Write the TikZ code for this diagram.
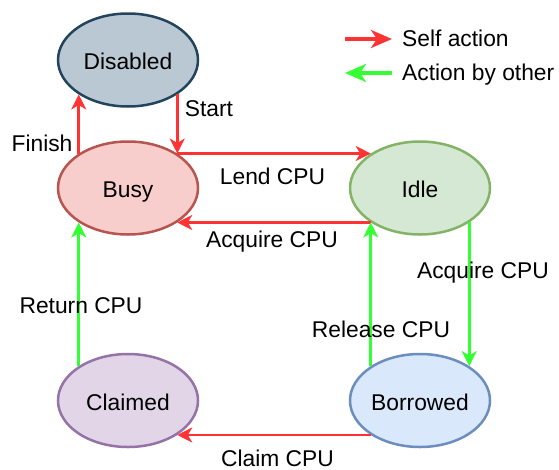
\documentclass[tikz,border=0pt]{standalone}
\usepackage{fontspec}
\setmainfont{Liberation Sans}
\usetikzlibrary{arrows.meta,shapes.geometric}

\definecolor{selfred}{HTML}{FF3333}
\definecolor{othergreen}{HTML}{33FF33}
\definecolor{disfill}{HTML}{BAC8D3}\definecolor{disline}{HTML}{23445D}
\definecolor{busyfill}{HTML}{F8CECC}\definecolor{busyline}{HTML}{B85450}
\definecolor{idlefill}{HTML}{D5E8D4}\definecolor{idleline}{HTML}{82B366}
\definecolor{clmfill}{HTML}{E1D5E7}\definecolor{clmline}{HTML}{9673A6}
\definecolor{borfill}{HTML}{DAE8FC}\definecolor{borline}{HTML}{6C8EBF}

\tikzset{
  txt/.style={font=\fontsize{22.8}{26}\selectfont},
  state/.style={ellipse, txt, line width=2.5pt, minimum width=140pt,
    minimum height=93pt, inner sep=0pt, text height=19.8pt, text depth=0pt},
  lbl/.style={txt, inner sep=0pt, text height=16.4pt, text depth=0pt},
  selfarr/.style={draw=selfred, line width=2.5pt,
    -{Stealth[length=15pt,width=15pt,inset=4.5pt]}},
  otherarr/.style={draw=othergreen, line width=2.5pt,
    -{Stealth[length=15pt,width=15pt,inset=4.5pt]}},
  keyarr/.style={line width=4pt,
    -{Stealth[length=21pt,width=18pt,inset=6pt]}}
}

\begin{document}
\begin{tikzpicture}[x=1pt,y=-1pt]
\useasboundingbox (0,0) rectangle (559,469);

% states
\node[state, fill=disfill, draw=disline]   (disabled) at (128,60)    {Disabled};
\node[state, fill=busyfill, draw=busyline] (busy)     at (128,188)   {Busy};
\node[state, fill=idlefill, draw=idleline] (idle)     at (420,188)   {Idle};
\node[state, fill=clmfill, draw=clmline]   (claimed)  at (128,400.5) {Claimed};
\node[state, fill=borfill, draw=borline]   (borrowed) at (420,400.5) {Borrowed};

% transitions
\draw[selfarr]  (busy.145)     -- (disabled.215);
\draw[selfarr]  (disabled.-35) -- (busy.35);
\draw[selfarr]  (busy.35)      -- (idle.145);
\draw[selfarr]  (idle.215)     -- (busy.-35);
\draw[otherarr] (idle.-35)     -- (borrowed.35);
\draw[otherarr] (borrowed.145) -- (idle.215);
\draw[otherarr] (claimed.145)  -- (busy.215);
\draw[selfarr]  (borrowed.215) -- (claimed.-35);

% transition labels
\node[lbl] (lfinish)  at (42,143.3)  {Finish};
\node[lbl] (lstart)   at (209,108)   {Start};
\node[lbl] (llend)    at (272.5,176.7) {Lend CPU};
\node[lbl] (lacq)     at (272,239)   {Acquire CPU};
\node[lbl] (lacqr)    at (483,270.7) {Acquire CPU};
\node[lbl] (lrel)     at (381,329)   {Release CPU};
\node[lbl] (lret)     at (81,305.7)  {Return CPU};
\node[lbl] (lclaim)   at (277.5,458) {Claim CPU};

% legend
\coordinate (k1a) at (345,39);  \coordinate (k1b) at (392,39);
\coordinate (k2a) at (392,73);  \coordinate (k2b) at (345,73);
\draw[keyarr, draw=selfred]    (k1a) -- (k1b);
\draw[keyarr, draw=othergreen] (k2a) -- (k2b);
\node[lbl, anchor=west] (kself)  at (402,38.3) {Self action};
\node[lbl, anchor=west] (kother) at (402,72.3) {Action by other};
\end{tikzpicture}
\end{document}
